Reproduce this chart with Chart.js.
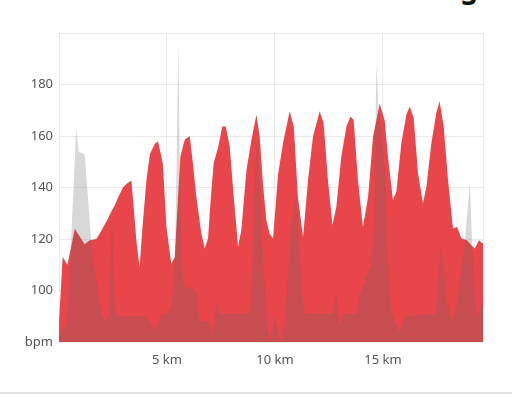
<!DOCTYPE html>
<html>
<head>
<meta charset="utf-8">
<script src="https://cdn.jsdelivr.net/npm/chart.js@4"></script>
<style>
  html, body { margin: 0; padding: 0; background: #fff; overflow: hidden; }
  #wrap { position: relative; width: 512px; height: 394px; overflow: hidden; }
  #title { position: absolute; right: 34px; top: -32px; font: bold 28px "Noto Sans", sans-serif; color: #111; white-space: nowrap; }
  #chartBox { position: absolute; left: 0; top: 0; width: 512px; height: 390px; }
  #rule { position: absolute; left: 0; top: 392px; width: 512px; height: 2px; background: #e2e2e2; }
</style>
</head>
<body>
<div id="wrap">
  <div id="title">Running</div>
  <div id="chartBox"><canvas id="c" width="512" height="390"></canvas></div>
  <div id="rule"></div>
</div>
<script>
// Red series: distance (km) and heart rate (bpm)
const redKm = [0.00,0.17,0.39,0.54,0.73,0.96,1.19,1.42,1.73,1.88,2.07,2.27,2.44,2.58,2.73,2.96,3.13,3.35,3.46,3.58,3.73,3.87,4.05,4.21,4.44,4.58,4.74,4.81,4.97,5.20,5.36,5.51,5.62,5.82,6.05,6.20,6.36,6.59,6.75,6.90,7.02,7.16,7.36,7.56,7.72,7.90,8.09,8.29,8.44,8.68,8.91,9.14,9.29,9.44,9.60,9.75,9.91,10.14,10.37,10.68,10.87,11.06,11.30,11.53,11.76,12.07,12.25,12.45,12.66,12.84,13.07,13.31,13.49,13.64,13.84,14.07,14.31,14.54,14.85,15.08,15.23,15.46,15.62,15.85,16.08,16.24,16.42,16.62,16.85,17.01,17.24,17.47,17.62,17.81,18.01,18.24,18.43,18.63,18.89,19.09,19.25,19.44,19.63];
const redBpm = [88,113,110,116,124,121,118,119.5,120,122,125,128,131,133,136,140,141.5,142.7,132,119.5,109,125,143,153,157,158,152,149,125,110.4,113,136,152,158.5,160,149.4,136.4,122,116.3,120.2,135,149.4,155.3,163.7,163.7,156,136.4,117,123.4,146.8,158.5,168.3,159.8,141.6,127.3,122,120.2,145,157.2,169.6,163.7,136.4,120.8,142.9,159.8,169.6,165,142.9,125.4,132.5,152,163.7,167.6,166.3,142.9,124.7,136.4,159.8,172.5,166,152,135.1,138.4,157.2,168.3,171.5,167,145.5,133.8,140.3,157.2,169,173.5,163.7,142.9,124.1,124.7,120.2,119.5,117.6,116.3,119.5,118.2];

// Grey series: distance (km) and heart rate (bpm)
const greyKm = [0.00,0.13,0.31,0.40,0.59,0.80,0.91,1.00,1.19,1.26,1.50,1.70,1.96,2.11,2.30,2.39,2.46,2.53,2.67,3.04,3.50,3.97,4.20,4.38,4.57,4.75,5.03,5.22,5.36,5.45,5.52,5.59,5.68,5.82,6.19,6.37,6.51,6.98,7.12,7.29,7.44,8.84,8.92,9.06,9.15,9.29,9.43,9.57,9.66,9.78,9.99,10.13,10.22,10.36,10.50,10.63,10.77,10.96,11.10,11.24,11.37,12.67,12.84,12.99,13.13,13.78,13.92,14.23,14.46,14.61,14.69,14.78,14.93,15.07,15.19,15.30,15.40,15.62,15.78,16.01,17.44,17.53,17.70,17.93,18.17,18.37,18.78,18.88,19.02,19.17,19.32,19.48,19.63];
const greyBpm = [82,85,85,90,125,163,154,153.5,153,145,118,105,91,88,90,110,128,100,90,90,90,90,88,84.4,86,91,91,95,110,150,197,150,110,101.3,101,99,88.3,88,83,95,91,91,100,140,158,140,115,95,85,80.5,90,85,80.5,82,90,110,125,137,120,100,91,91,98.8,85.7,91,91,98,105.2,110.4,123.4,188.5,172,160,148,120,100,92,86,84,90,91,100,118.2,97.4,88.3,92,117,128,141.6,107.8,90,92,96];

// Axis ticks
const yTicks = [80, 100, 120, 140, 160, 180, 200];
const xTicks = [0, 5, 10, 15];

const toPoints = (xs, ys) => xs.map((x, i) => ({ x: x, y: ys[i] }));

const tickFont = { family: "'Noto Sans', sans-serif", size: 13 };

new Chart(document.getElementById('c'), {
  type: 'line',
  data: {
    datasets: [
      {
        label: 'grey',
        data: toPoints(greyKm, greyBpm),
        backgroundColor: 'rgba(100,100,100,0.25)',
        borderWidth: 0,
        pointRadius: 0,
        fill: 'start',
        tension: 0
      },
      {
        label: 'red',
        data: toPoints(redKm, redBpm),
        backgroundColor: 'rgb(232,70,75)',
        borderWidth: 0,
        pointRadius: 0,
        fill: 'start',
        tension: 0
      }
    ]
  },
  options: {
    responsive: false,
    animation: false,
    events: [],
    layout: { padding: { top: 33, right: 29, left: 0, bottom: 0 } },
    plugins: { legend: { display: false }, tooltip: { enabled: false } },
    scales: {
      x: {
        type: 'linear',
        min: 0,
        max: 19.63,
        afterBuildTicks: (s) => { s.ticks = xTicks.concat([19.63]).map(v => ({ value: v })); },
        afterFit: (s) => { s.height = 48; },
        grid: { color: 'rgba(0,0,0,0.08)', drawTicks: false },
        border: { display: false },
        ticks: {
          padding: 10,
          color: '#555',
          font: tickFont,
          maxRotation: 0,
          autoSkip: false,
          callback: (v) => (xTicks.includes(v) && v !== 0) ? v + ' km' : ''
        }
      },
      y: {
        min: 80,
        max: 200,
        afterBuildTicks: (s) => { s.ticks = yTicks.map(v => ({ value: v })); },
        afterFit: (s) => { s.width = 59; },
        grid: { color: 'rgba(0,0,0,0.08)', drawTicks: false },
        border: { display: false },
        ticks: {
          padding: 6,
          color: '#555',
          font: tickFont,
          callback: (v) => v === 80 ? 'bpm' : (v === 200 ? '' : String(v))
        }
      }
    }
  }
});
</script>
</body>
</html>
